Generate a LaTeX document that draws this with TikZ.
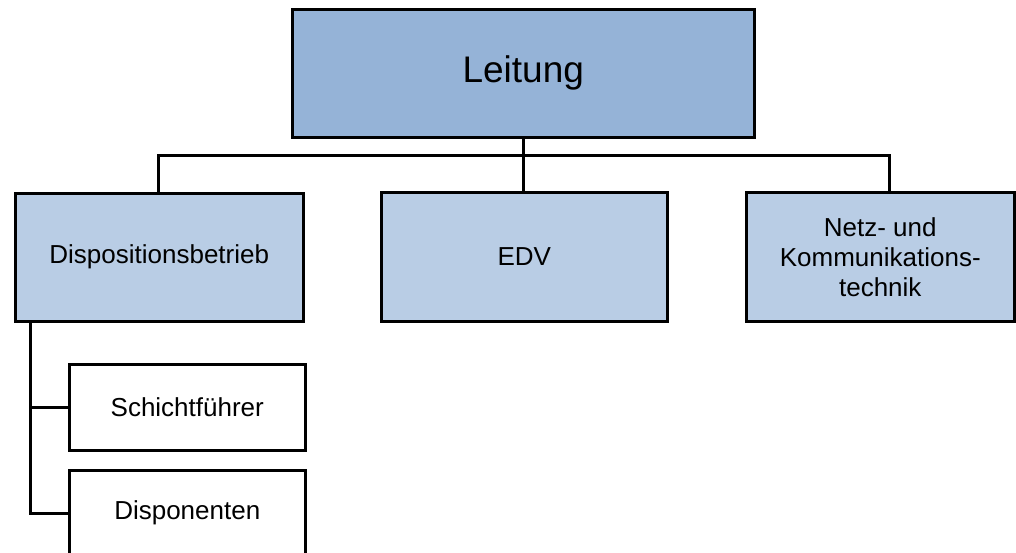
\documentclass[tikz,border=0pt]{standalone}
\usepackage{fontspec}
\setmainfont{Liberation Sans}
\definecolor{topfill}{HTML}{95B3D7}
\definecolor{midfill}{HTML}{B9CDE5}
\begin{document}
\begin{tikzpicture}[x=1pt,y=-1pt,
  box/.style={draw=black,line width=2.5pt,anchor=north west,inner sep=0pt,align=center},
  conn/.style={draw=black,line width=3pt}]
\useasboundingbox (0,0) rectangle (1016,552);
\clip (0,0) rectangle (1016,552);
\node[box,fill=topfill,minimum width=462pt,minimum height=128pt,font=\fontsize{37}{44}\selectfont] (lead) at (291,8) {Leitung};
\node[box,fill=midfill,minimum width=288pt,minimum height=128pt,font=\fontsize{26}{30}\selectfont] (disp) at (14,192) {Dispositionsbetrieb};
\node[box,fill=midfill,minimum width=286pt,minimum height=129pt,font=\fontsize{26}{30}\selectfont] (edv) at (380,191) {EDV};
\node[box,fill=midfill,minimum width=268pt,minimum height=129pt,font=\fontsize{26}{30}\selectfont] (netz) at (745,191) {Netz- und\\Kommunikations-\\technik};
\node[box,fill=white,minimum width=236pt,minimum height=86pt,font=\fontsize{26}{30}\selectfont] (schicht) at (68,363) {Schichtführer};
\node[box,fill=white,minimum width=236pt,minimum height=86pt,font=\fontsize{26}{30}\selectfont] (dispo) at (68,469) {Disponenten};
\coordinate (bar) at (523,155);
\coordinate (dtop) at (158,192);
\coordinate (ntop) at (889,191);
\draw[conn] (bar |- lead.south) -- (bar |- edv.north);
\draw[conn] (dtop) |- (bar) -| (ntop);
\coordinate (stem) at (30,320);
\draw[conn] (stem) |- (schicht.west);
\draw[conn] (stem) |- (dispo.west);
\end{tikzpicture}
\end{document}
